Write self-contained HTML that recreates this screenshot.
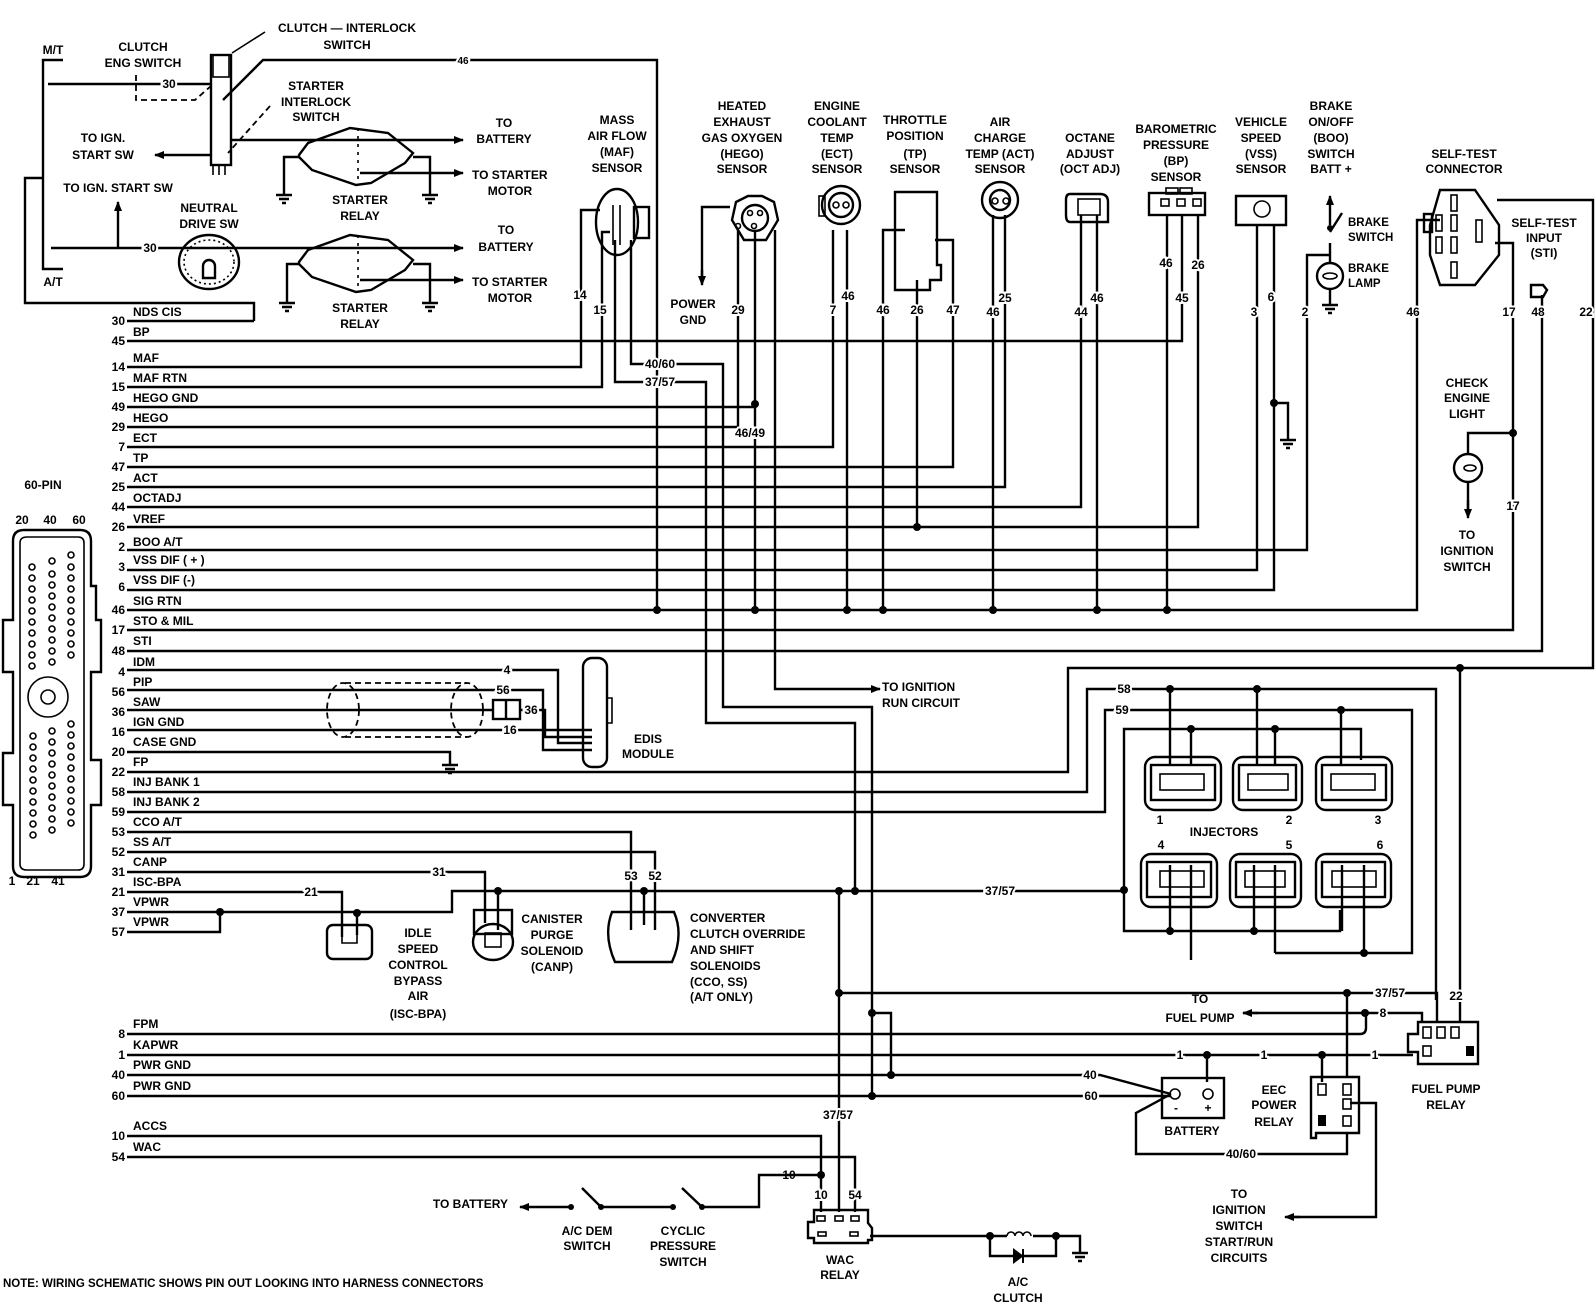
<!DOCTYPE html>
<html><head><meta charset="utf-8"><style>
html,body{margin:0;padding:0;background:#fff;}
svg{display:block;}
text{font-family:"Liberation Sans",sans-serif;font-weight:bold;font-size:12px;fill:#000;}
.c{text-anchor:middle;}
.r{text-anchor:end;}
.h{font-size:12.5px;}
.lb{paint-order:stroke;stroke:#fff;stroke-width:4px;}
.w{fill:none;stroke:#000;stroke-width:2.4;}
.thin{fill:none;stroke:#000;stroke-width:1.6;}
.d{fill:none;stroke:#000;stroke-width:1.8;stroke-dasharray:6 4;}
</style></head><body>
<svg width="1596" height="1312" viewBox="0 0 1596 1312" xmlns="http://www.w3.org/2000/svg">
<rect width="1596" height="1312" fill="#fff"/>
<defs>
<marker id="ar" markerWidth="10" markerHeight="8" refX="9" refY="4" orient="auto" markerUnits="userSpaceOnUse"><path d="M0,0 L10,4 L0,8 Z" fill="#000"/></marker>
</defs>

<!-- ===== TOP LEFT ===== -->
<text x="53" y="54" class="c">M/T</text>
<text x="53" y="286" class="c">A/T</text>
<path class="w" d="M63,60 H43 V269 H63"/>
<path class="w" d="M43,178 H25 V303 H254 V321"/>
<text x="143" y="51" class="c">CLUTCH</text>
<text x="143" y="67" class="c">ENG  SWITCH</text>
<text x="347" y="32" class="c">CLUTCH — INTERLOCK</text>
<text x="347" y="49" class="c">SWITCH</text>
<path class="thin" d="M265,32 L232,53"/>
<path class="w" d="M48,84 H211"/>
<text x="169" y="88" class="c lb">30</text>
<path class="d" d="M136,75 V100 H195 L211,86"/>
<rect x="211" y="55" width="20" height="110" class="w"/>
<rect x="213" y="55" width="16" height="22" class="thin"/>
<path class="thin" d="M213,165 v10 M219,165 v10 M225,165 v10"/>
<path class="w" d="M657,610 V60 H263 L223,100"/>
<text x="463" y="64" class="c lb" style="font-size:10px">46</text>
<text x="316" y="90" class="c">STARTER</text>
<text x="316" y="106" class="c">INTERLOCK</text>
<text x="316" y="121" class="c">SWITCH</text>
<path class="d" d="M270,106 L228,153"/>
<path class="w" d="M230,140 H463" marker-end="url(#ar)"/>
<text x="504" y="127" class="c">TO</text>
<text x="504" y="143" class="c">BATTERY</text>
<path class="w" d="M211,155 H155" marker-end="url(#ar)"/>
<text x="103" y="142" class="c">TO IGN.</text>
<text x="103" y="159" class="c">START SW</text>
<polygon class="w" points="299,155 308,143 350,128 388,133 413,153 405,163 371,183 356,185 312,170 299,157"/>
<path class="thin" stroke-dasharray="3 5" d="M358,128 V185"/>
<path class="w" d="M299,157 H284 V195 M413,157 H430 V195"/>
<path class="w" d="M276,195 h16 M279,199 h10 M282,203 h4 M422,195 h16 M425,199 h10 M428,203 h4"/>
<path class="w" d="M360,173 H463" marker-end="url(#ar)"/>
<text x="472" y="179">TO STARTER</text>
<text x="510" y="195" class="c">MOTOR</text>
<text x="360" y="204" class="c">STARTER</text>
<text x="360" y="220" class="c">RELAY</text>
<text x="118" y="192" class="c">TO IGN. START SW</text>
<path class="w" d="M118,248 V202" marker-end="url(#ar)"/>
<path class="w" d="M51,248 H463" marker-end="url(#ar)"/>
<text x="150" y="252" class="c lb">30</text>
<text x="506" y="234" class="c">TO</text>
<text x="506" y="251" class="c">BATTERY</text>
<text x="209" y="212" class="c">NEUTRAL</text>
<text x="209" y="228" class="c">DRIVE SW</text>
<ellipse cx="209" cy="262" rx="30" ry="27" class="w"/>
<ellipse cx="209" cy="262" rx="25" ry="22" class="thin" stroke-dasharray="2 3"/>
<path class="w" d="M203,278 v-12 a6,6 0 1 1 12,0 v12 z"/>
<polygon class="w" points="299,262 308,250 350,235 388,240 413,260 405,270 371,290 356,292 312,277 299,264"/>
<path class="thin" stroke-dasharray="3 5" d="M358,235 V292"/>
<path class="w" d="M299,264 H287 V303 M413,264 H430 V303"/>
<path class="w" d="M279,303 h16 M282,307 h10 M285,311 h4 M422,303 h16 M425,307 h10 M428,311 h4"/>
<path class="w" d="M360,280 H463" marker-end="url(#ar)"/>
<text x="472" y="286">TO STARTER</text>
<text x="510" y="302" class="c">MOTOR</text>
<text x="360" y="312" class="c">STARTER</text>
<text x="360" y="328" class="c">RELAY</text>

<!-- ===== 60 PIN CONNECTOR ===== -->
<text x="43" y="489" class="c">60-PIN</text>
<text x="22" y="524" class="c">20</text><text x="50" y="524" class="c">40</text><text x="79" y="524" class="c">60</text>
<path class="w" d="M24,530 H80 Q91,530 91,541 V586 H96 V620 H101 V672 H91 V760 H101 V805 H91 V866 Q91,877 80,877 H24 Q13,877 13,866 V805 H3 V753 H13 V672 H3 V620 H13 V541 Q13,530 24,530 Z"/>
<path class="thin" d="M27,537 H78 Q84,537 84,543 V864 Q84,870 78,870 H27 Q20,870 20,864 V543 Q20,537 27,537 Z"/>
<circle cx="48" cy="697" r="20" class="thin"/>
<circle cx="48" cy="697" r="7" class="thin"/>
<g class="thin">
<circle cx="32" cy="567" r="3"/><circle cx="32" cy="578" r="3"/><circle cx="32" cy="589" r="3"/><circle cx="32" cy="600" r="3"/><circle cx="32" cy="611" r="3"/><circle cx="32" cy="622" r="3"/><circle cx="32" cy="633" r="3"/><circle cx="32" cy="644" r="3"/><circle cx="32" cy="655" r="3"/><circle cx="32" cy="666" r="3"/>
<circle cx="52" cy="561" r="3"/><circle cx="52" cy="574" r="3"/><circle cx="52" cy="585" r="3"/><circle cx="52" cy="596" r="3"/><circle cx="52" cy="607" r="3"/><circle cx="52" cy="618" r="3"/><circle cx="52" cy="629" r="3"/><circle cx="52" cy="640" r="3"/><circle cx="52" cy="651" r="3"/><circle cx="52" cy="662" r="3"/>
<circle cx="71" cy="555" r="3"/><circle cx="71" cy="567" r="3"/><circle cx="71" cy="578" r="3"/><circle cx="71" cy="589" r="3"/><circle cx="71" cy="600" r="3"/><circle cx="71" cy="611" r="3"/><circle cx="71" cy="622" r="3"/><circle cx="71" cy="633" r="3"/><circle cx="71" cy="644" r="3"/><circle cx="71" cy="655" r="3"/>
<circle cx="33" cy="736" r="3"/><circle cx="33" cy="747" r="3"/><circle cx="33" cy="758" r="3"/><circle cx="33" cy="769" r="3"/><circle cx="33" cy="780" r="3"/><circle cx="33" cy="791" r="3"/><circle cx="33" cy="802" r="3"/><circle cx="33" cy="813" r="3"/><circle cx="33" cy="824" r="3"/><circle cx="33" cy="835" r="3"/>
<circle cx="52" cy="731" r="3"/><circle cx="52" cy="742" r="3"/><circle cx="52" cy="753" r="3"/><circle cx="52" cy="764" r="3"/><circle cx="52" cy="775" r="3"/><circle cx="52" cy="786" r="3"/><circle cx="52" cy="797" r="3"/><circle cx="52" cy="808" r="3"/><circle cx="52" cy="819" r="3"/><circle cx="52" cy="830" r="3"/>
<circle cx="71" cy="724" r="3"/><circle cx="71" cy="735" r="3"/><circle cx="71" cy="746" r="3"/><circle cx="71" cy="757" r="3"/><circle cx="71" cy="768" r="3"/><circle cx="71" cy="779" r="3"/><circle cx="71" cy="790" r="3"/><circle cx="71" cy="801" r="3"/><circle cx="71" cy="812" r="3"/><circle cx="71" cy="823" r="3"/>
</g>
<text x="12" y="885" class="c">1</text><text x="33" y="885" class="c">21</text><text x="58" y="885" class="c">41</text>

<!-- ===== ROW LABELS ===== -->
<g>
<text x="125" y="325" class="r">30</text><text x="133" y="316">NDS CIS</text>
<text x="125" y="345" class="r">45</text><text x="133" y="336">BP</text>
<text x="125" y="371" class="r">14</text><text x="133" y="362">MAF</text>
<text x="125" y="391" class="r">15</text><text x="133" y="382">MAF RTN</text>
<text x="125" y="411" class="r">49</text><text x="133" y="402">HEGO GND</text>
<text x="125" y="431" class="r">29</text><text x="133" y="422">HEGO</text>
<text x="125" y="451" class="r">7</text><text x="133" y="442">ECT</text>
<text x="125" y="471" class="r">47</text><text x="133" y="462">TP</text>
<text x="125" y="491" class="r">25</text><text x="133" y="482">ACT</text>
<text x="125" y="511" class="r">44</text><text x="133" y="502">OCTADJ</text>
<text x="125" y="531" class="r">26</text><text x="133" y="523">VREF</text>
<text x="125" y="551" class="r">2</text><text x="133" y="546">BOO A/T</text>
<text x="125" y="571" class="r">3</text><text x="133" y="564">VSS DIF ( + )</text>
<text x="125" y="591" class="r">6</text><text x="133" y="584">VSS DIF (-)</text>
<text x="125" y="614" class="r">46</text><text x="133" y="605">SIG RTN</text>
<text x="125" y="634" class="r">17</text><text x="133" y="625">STO &amp; MIL</text>
<text x="125" y="655" class="r">48</text><text x="133" y="645">STI</text>
<text x="125" y="676" class="r">4</text><text x="133" y="666">IDM</text>
<text x="125" y="696" class="r">56</text><text x="133" y="686">PIP</text>
<text x="125" y="716" class="r">36</text><text x="133" y="706">SAW</text>
<text x="125" y="736" class="r">16</text><text x="133" y="726">IGN GND</text>
<text x="125" y="756" class="r">20</text><text x="133" y="746">CASE GND</text>
<text x="125" y="776" class="r">22</text><text x="133" y="766">FP</text>
<text x="125" y="796" class="r">58</text><text x="133" y="786">INJ BANK 1</text>
<text x="125" y="816" class="r">59</text><text x="133" y="806">INJ BANK 2</text>
<text x="125" y="836" class="r">53</text><text x="133" y="826">CCO A/T</text>
<text x="125" y="856" class="r">52</text><text x="133" y="846">SS A/T</text>
<text x="125" y="876" class="r">31</text><text x="133" y="866">CANP</text>
<text x="125" y="896" class="r">21</text><text x="133" y="886">ISC-BPA</text>
<text x="125" y="916" class="r">37</text><text x="133" y="906">VPWR</text>
<text x="125" y="936" class="r">57</text><text x="133" y="926">VPWR</text>
<text x="125" y="1038" class="r">8</text><text x="133" y="1028">FPM</text>
<text x="125" y="1059" class="r">1</text><text x="133" y="1049">KAPWR</text>
<text x="125" y="1079" class="r">40</text><text x="133" y="1069">PWR GND</text>
<text x="125" y="1100" class="r">60</text><text x="133" y="1090">PWR GND</text>
<text x="125" y="1140" class="r">10</text><text x="133" y="1130">ACCS</text>
<text x="125" y="1161" class="r">54</text><text x="133" y="1151">WAC</text>
</g>

<!-- ===== ROW WIRES ===== -->
<g class="w">
<path d="M127,321 H254"/>
<path d="M127,341 H1182 V215"/>
<path d="M127,367 H581 V210 H600"/>
<path d="M127,387 H602 V232 H610"/>
<path d="M127,407 H755"/>
<path d="M127,427 H738 V230"/>
<path d="M127,447 H833 V230"/>
<path d="M127,467 H953 V240 H935"/>
<path d="M127,487 H1005 V215"/>
<path d="M127,507 H1081 V215"/>
<path d="M127,527 H1198 V215"/>
<path d="M127,550 H1307 V255 H1330"/>
<path d="M127,570 H1257 V225"/>
<path d="M127,590 H1274 V225"/>
<path d="M127,610 H1417 V220 H1440"/>
<path d="M127,630 H1513 V243 H1495"/>
<path d="M127,651 H1542 V295"/>
<path d="M127,670 H558 V743 H592"/>
<path d="M127,690 H543 V750 H592"/>
<path d="M127,710 H493 M520,710 H545 V737 H592"/>
<path d="M127,730 H592"/>
<path d="M127,752 H450 V765"/>
<path d="M127,772 H1068 V668 H1593 V200 H1497"/>
<path d="M127,792 H1087 V689 H1436 V1000"/>
<path d="M127,812 H1105 V710 H1412 V953 H1275"/>
<path d="M127,832 H631 V930"/>
<path d="M127,852 H655 V930"/>
<path d="M127,872 H485 V923"/>
<path d="M127,892 H342 V937"/>
<path d="M127,912 H452 V891 H1124"/>
<path d="M127,932 H220 V912"/>
<path d="M127,1034 H1360 Q1366,1034 1366,1028 V1013"/>
<path d="M127,1055 H1413"/>
<path d="M127,1075 H1100 L1171,1094"/>
<path d="M127,1096 H1171"/>
<path d="M127,1136 H821 V1212"/>
<path d="M127,1157 H855 V1212"/>
</g>

<!-- SIG RTN verticals -->
<g class="w">
<path d="M755,230 V610"/>
<path d="M847,230 V610"/>
<path d="M883,610 V230 H905"/>
<path d="M917,527 V280"/>
<path d="M993,215 V610"/>
<path d="M1097,215 V610"/>
<path d="M1167,215 V610"/>
<path d="M775,230 V689 H880" marker-end="url(#ar)"/>
<path d="M615,240 V382 H706 V723 H855 V891"/>
<path d="M631,240 V364 H723 V707 H872 V1096"/>
<path d="M872,1013 H891 V1075"/>
<path d="M839,891 V1212"/>
<path d="M839,993 H1437 V1022"/>
<path d="M1347,993 V1077"/>
<path d="M1460,668 V1022"/>
<path d="M1274,403 H1288 V440"/>
<path d="M1243,1013 H1422 V1022" />
<path d="M1207,1055 V1082 M1322,1055 V1082"/>
<path d="M1171,1094 L1136,1113 V1154 H1347 V1133"/>
<path d="M1350,1103 H1376 V1217 H1287"/>
<path d="M1513,433 H1468 V455"/>
<path d="M1468,482 V516"/>
</g>
<path class="w" d="M1258,1013 L1243,1013" marker-end="url(#ar)"/>
<path class="w" d="M1300,1217 L1285,1217" marker-end="url(#ar)"/>
<path class="w" d="M1468,500 V518" marker-end="url(#ar)"/>
<path class="w" d="M1280,440 h16 M1283,444 h10 M1286,448 h4 M442,765 h16 M445,769 h10 M448,773 h4"/>

<!-- dots -->
<g fill="#000">
<circle cx="657" cy="610" r="4"/><circle cx="755" cy="610" r="4"/><circle cx="847" cy="610" r="4"/><circle cx="883" cy="610" r="4"/><circle cx="993" cy="610" r="4"/><circle cx="1097" cy="610" r="4"/><circle cx="1167" cy="610" r="4"/>
<circle cx="755" cy="404" r="4"/><circle cx="917" cy="527" r="4"/><circle cx="1274" cy="403" r="4"/><circle cx="1513" cy="433" r="4"/><circle cx="1460" cy="668" r="4"/>
<circle cx="220" cy="912" r="4"/><circle cx="357" cy="913" r="4"/><circle cx="498" cy="891" r="4"/><circle cx="644" cy="891" r="4"/><circle cx="839" cy="891" r="4"/><circle cx="855" cy="891" r="4"/><circle cx="1124" cy="890" r="4"/>
<circle cx="839" cy="993" r="4"/><circle cx="1347" cy="993" r="4"/><circle cx="872" cy="1013" r="4"/><circle cx="891" cy="1075" r="4"/><circle cx="872" cy="1096" r="4"/>
<circle cx="1365" cy="1013" r="4"/><circle cx="1207" cy="1055" r="4"/><circle cx="1322" cy="1055" r="4"/>
<circle cx="821" cy="1175" r="4"/><circle cx="990" cy="1236" r="4"/><circle cx="1056" cy="1236" r="4"/>
<circle cx="1170" cy="689" r="4"/><circle cx="1257" cy="689" r="4"/><circle cx="1341" cy="710" r="4"/><circle cx="1191" cy="729" r="4"/><circle cx="1275" cy="729" r="4"/>
<circle cx="1170" cy="931" r="4"/><circle cx="1254" cy="931" r="4"/><circle cx="1364" cy="953" r="4"/>
</g>

<!-- wire labels -->
<g>
<text x="660" y="368" class="c lb">40/60</text>
<text x="660" y="386" class="c lb">37/57</text>
<text x="750" y="437" class="c lb">46/49</text>
<text x="580" y="299" class="c lb">14</text>
<text x="600" y="314" class="c lb">15</text>
<text x="738" y="314" class="c lb">29</text>
<text x="833" y="314" class="c lb">7</text>
<text x="848" y="300" class="c lb">46</text>
<text x="883" y="314" class="c lb">46</text>
<text x="917" y="314" class="c lb">26</text>
<text x="953" y="314" class="c lb">47</text>
<text x="993" y="316" class="c lb">46</text>
<text x="1005" y="302" class="c lb">25</text>
<text x="1081" y="316" class="c lb">44</text>
<text x="1097" y="302" class="c lb">46</text>
<text x="1166" y="267" class="c lb">46</text>
<text x="1198" y="269" class="c lb">26</text>
<text x="1182" y="302" class="c lb">45</text>
<text x="1254" y="316" class="c lb">3</text>
<text x="1271" y="301" class="c lb">6</text>
<text x="1305" y="316" class="c lb">2</text>
<text x="1413" y="316" class="c lb">46</text>
<text x="1509" y="316" class="c lb">17</text>
<text x="1538" y="316" class="c lb">48</text>
<text x="1586" y="316" class="c lb">22</text>
<text x="1513" y="510" class="c lb">17</text>
<text x="507" y="674" class="c lb">4</text>
<text x="503" y="694" class="c lb">56</text>
<text x="531" y="714" class="c lb">36</text>
<text x="510" y="734" class="c lb">16</text>
<text x="1124" y="693" class="c lb">58</text>
<text x="1122" y="714" class="c lb">59</text>
<text x="631" y="880" class="c lb">53</text>
<text x="655" y="880" class="c lb">52</text>
<text x="439" y="876" class="c lb">31</text>
<text x="311" y="896" class="c lb">21</text>
<text x="1000" y="895" class="c lb">37/57</text>
<text x="1390" y="997" class="c lb">37/57</text>
<text x="1456" y="1000" class="c lb">22</text>
<text x="1383" y="1017" class="c lb">8</text>
<text x="1180" y="1059" class="c lb">1</text>
<text x="1264" y="1059" class="c lb">1</text>
<text x="1375" y="1059" class="c lb">1</text>
<text x="1090" y="1079" class="c lb">40</text>
<text x="1091" y="1100" class="c lb">60</text>
<text x="1241" y="1158" class="c lb">40/60</text>
<text x="838" y="1119" class="c lb">37/57</text>
<text x="821" y="1199" class="c lb">10</text>
<text x="855" y="1199" class="c lb">54</text>
<text x="789" y="1179" class="c lb">10</text>
</g>

<!-- ===== SENSOR HEADERS ===== -->
<g class="h">
<text x="617" y="124" class="c">MASS</text><text x="617" y="140" class="c">AIR FLOW</text><text x="617" y="156" class="c">(MAF)</text><text x="617" y="172" class="c">SENSOR</text>
<text x="742" y="110" class="c">HEATED</text><text x="742" y="126" class="c">EXHAUST</text><text x="742" y="142" class="c">GAS OXYGEN</text><text x="742" y="158" class="c">(HEGO)</text><text x="742" y="173" class="c">SENSOR</text>
<text x="837" y="110" class="c">ENGINE</text><text x="837" y="126" class="c">COOLANT</text><text x="837" y="142" class="c">TEMP</text><text x="837" y="158" class="c">(ECT)</text><text x="837" y="173" class="c">SENSOR</text>
<text x="915" y="124" class="c">THROTTLE</text><text x="915" y="140" class="c">POSITION</text><text x="915" y="158" class="c">(TP)</text><text x="915" y="173" class="c">SENSOR</text>
<text x="1000" y="126" class="c">AIR</text><text x="1000" y="142" class="c">CHARGE</text><text x="1000" y="158" class="c">TEMP (ACT)</text><text x="1000" y="173" class="c">SENSOR</text>
<text x="1090" y="142" class="c">OCTANE</text><text x="1090" y="158" class="c">ADJUST</text><text x="1090" y="173" class="c">(OCT ADJ)</text>
<text x="1176" y="133" class="c">BAROMETRIC</text><text x="1176" y="149" class="c">PRESSURE</text><text x="1176" y="165" class="c">(BP)</text><text x="1176" y="181" class="c">SENSOR</text>
<text x="1261" y="126" class="c">VEHICLE</text><text x="1261" y="142" class="c">SPEED</text><text x="1261" y="158" class="c">(VSS)</text><text x="1261" y="173" class="c">SENSOR</text>
<text x="1331" y="110" class="c">BRAKE</text><text x="1331" y="126" class="c">ON/OFF</text><text x="1331" y="142" class="c">(BOO)</text><text x="1331" y="158" class="c">SWITCH</text><text x="1331" y="173" class="c">BATT +</text>
<text x="1464" y="158" class="c">SELF-TEST</text><text x="1464" y="173" class="c">CONNECTOR</text>
<text x="1544" y="227" class="c">SELF-TEST</text><text x="1544" y="242" class="c">INPUT</text><text x="1544" y="257" class="c">(STI)</text>
<text x="693" y="308" class="c">POWER</text><text x="693" y="324" class="c">GND</text>
</g>
<text x="1348" y="226" style="font-size:11.5px">BRAKE</text><text x="1348" y="241" style="font-size:11.5px">SWITCH</text>
<text x="1348" y="272" style="font-size:11.5px">BRAKE</text><text x="1348" y="287" style="font-size:11.5px">LAMP</text>

<!-- sensor shapes -->
<ellipse cx="617" cy="222" rx="21" ry="33" class="w"/>
<rect x="634" y="207" width="15" height="31" class="w"/>
<path class="thin" d="M613,205 v40 M620,205 v40"/>
<path class="w" d="M702,283 V207 H730"/>
<path class="w" d="M702,270 V285" marker-end="url(#ar)"/>
<path class="w" d="M736,202 L748,196 H762 L774,202 L778,220 L766,240 H744 L732,220 Z"/>
<circle cx="755" cy="218" r="13" class="w"/>
<circle cx="750" cy="213" r="2.5" class="thin"/><circle cx="760" cy="213" r="2.5" class="thin"/><circle cx="738" cy="226" r="2.5" class="thin"/><circle cx="754" cy="226" r="2.5" class="thin"/>
<circle cx="841" cy="205" r="19" class="w"/><circle cx="841" cy="205" r="12" class="w"/>
<rect x="819" y="196" width="6" height="20" class="thin"/>
<circle cx="836" cy="205" r="3" class="thin"/><circle cx="846" cy="205" r="3" class="thin"/>
<path class="w" d="M895,192 H937 V265 H941 V280 H930 V290 H895 Z"/>
<circle cx="1000" cy="200" r="18" class="w"/><circle cx="1000" cy="200" r="10" class="w"/>
<circle cx="995" cy="201" r="3" class="thin"/><circle cx="1006" cy="201" r="3" class="thin"/>
<path class="w" d="M1070,194 H1100 Q1108,194 1108,202 V222 H1070 Q1066,222 1066,215 V200 Q1066,194 1070,194 Z"/>
<rect x="1078" y="199" width="22" height="16" class="thin"/>
<rect x="1149" y="193" width="56" height="22" class="w"/>
<rect x="1166" y="188" width="12" height="6" class="thin"/><rect x="1180" y="188" width="12" height="6" class="thin"/>
<rect x="1161" y="199" width="8" height="7" class="thin"/><rect x="1177" y="199" width="8" height="7" class="thin"/><rect x="1193" y="199" width="8" height="7" class="thin"/>
<path class="w" d="M1236,196 H1286 V225 H1236 Z"/>
<circle cx="1262" cy="209" r="8" class="thin"/>
<path class="w" d="M1330,225 V196" marker-end="url(#ar)"/>
<circle cx="1330" cy="228" r="3" fill="#000"/>
<path class="w" d="M1330,232 L1342,213 M1330,243 V262"/>
<circle cx="1330" cy="276" r="13" class="w"/>
<ellipse cx="1330" cy="276" rx="7" ry="3" class="thin"/>
<path class="w" d="M1330,289 V305 M1322,305 h16 M1325,309 h10 M1328,313 h4"/>
<path class="w" d="M1440,190 H1475 L1499,225 V255 L1475,285 H1440 L1430,255 V225 Z"/>
<rect x="1451" y="195" width="6" height="16" class="thin"/><rect x="1451" y="215" width="6" height="16" class="thin"/><rect x="1451" y="237" width="6" height="16" class="thin"/><rect x="1451" y="262" width="6" height="16" class="thin"/>
<rect x="1436" y="215" width="6" height="16" class="thin"/><rect x="1436" y="237" width="6" height="16" class="thin"/>
<rect x="1476" y="220" width="6" height="22" class="thin"/>
<rect x="1424" y="214" width="8" height="18" class="w"/>
<path class="w" d="M1531,285 h12 l4,5 l-4,7 h-12 z"/>

<!-- check engine light -->
<text x="1467" y="387" class="c">CHECK</text>
<text x="1467" y="402" class="c">ENGINE</text>
<text x="1467" y="418" class="c">LIGHT</text>
<circle cx="1468" cy="468" r="14" class="w"/>
<ellipse cx="1470" cy="468" rx="6" ry="3" class="thin"/>
<text x="1467" y="539" class="c">TO</text>
<text x="1467" y="555" class="c">IGNITION</text>
<text x="1467" y="571" class="c">SWITCH</text>

<!-- EDIS -->
<ellipse cx="343" cy="710" rx="16" ry="27" class="d"/>
<ellipse cx="467" cy="710" rx="16" ry="27" class="d"/>
<path class="d" d="M345,683 H467 M345,737 H467"/>
<rect x="493" y="700" width="27" height="19" class="w"/>
<path class="w" d="M506,700 V719"/>
<rect x="583" y="658" width="24" height="109" rx="9" class="w"/>
<path class="thin" d="M607,698 H612 V723 H607"/>
<text x="648" y="743" class="c">EDIS</text>
<text x="648" y="758" class="c">MODULE</text>
<text x="882" y="691">TO IGNITION</text>
<text x="882" y="707">RUN CIRCUIT</text>

<!-- ISC, CANP, converter -->
<rect x="327" y="925" width="45" height="34" rx="6" class="w"/>
<path class="thin" d="M342,925 v18 h15 v-18"/>
<path class="w" d="M357,913 V935"/>
<rect x="474" y="910" width="38" height="24" class="w"/>
<ellipse cx="493" cy="942" rx="20" ry="18" class="w"/>
<rect x="485" y="933" width="16" height="14" class="thin"/>
<path class="w" d="M498,891 V930"/>
<path class="w" d="M612,912 H674 Q684,935 672,962 H615 Q603,935 612,912 Z"/>
<path class="w" d="M644,891 V925"/>
<g>
<text x="418" y="937" class="c">IDLE</text><text x="418" y="953" class="c">SPEED</text><text x="418" y="969" class="c">CONTROL</text><text x="418" y="985" class="c">BYPASS</text><text x="418" y="1000" class="c">AIR</text><text x="418" y="1018" class="c">(ISC-BPA)</text>
<text x="552" y="923" class="c">CANISTER</text><text x="552" y="939" class="c">PURGE</text><text x="552" y="955" class="c">SOLENOID</text><text x="552" y="971" class="c">(CANP)</text>
<text x="690" y="922">CONVERTER</text><text x="690" y="938">CLUTCH OVERRIDE</text><text x="690" y="954">AND SHIFT</text><text x="690" y="970">SOLENOIDS</text><text x="690" y="986">(CCO, SS)</text><text x="690" y="1001">(A/T ONLY)</text>
</g>

<!-- injectors -->
<path class="w" d="M1124,891 V931 H1340 V910 M1124,891 V729 H1361 V760"/>
<path class="w" d="M1170,689 V764 M1257,689 V764 M1341,710 V764 M1191,729 V764 M1275,729 V764"/>
<path class="w" d="M1170,931 V865 M1254,931 V865 M1342,931 V865 M1191,960 V865 M1275,953 V865 M1364,953 V865"/>
<g class="w">
<rect x="1145" y="757" width="76" height="53" rx="10"/><rect x="1151" y="765" width="64" height="35"/>
<rect x="1233" y="757" width="69" height="53" rx="10"/><rect x="1239" y="765" width="57" height="35"/>
<rect x="1316" y="757" width="76" height="53" rx="10"/><rect x="1322" y="765" width="64" height="35"/>
<rect x="1141" y="854" width="76" height="53" rx="10"/><rect x="1147" y="862" width="64" height="35"/>
<rect x="1230" y="854" width="71" height="53" rx="10"/><rect x="1236" y="862" width="59" height="35"/>
<rect x="1316" y="854" width="75" height="53" rx="10"/><rect x="1322" y="862" width="63" height="35"/>
</g>
<g class="thin">
<rect x="1160" y="774" width="44" height="16"/><rect x="1248" y="774" width="40" height="16"/><rect x="1331" y="774" width="44" height="16"/>
<rect x="1160" y="871" width="44" height="16"/><rect x="1245" y="871" width="40" height="16"/><rect x="1332" y="871" width="44" height="16"/>
</g>
<text x="1160" y="824" class="c">1</text><text x="1289" y="824" class="c">2</text><text x="1378" y="824" class="c">3</text>
<text x="1224" y="836" class="c">INJECTORS</text>
<text x="1161" y="849" class="c">4</text><text x="1289" y="849" class="c">5</text><text x="1380" y="849" class="c">6</text>

<!-- fuel pump relay, battery, EEC -->
<text x="1200" y="1003" class="c">TO</text>
<text x="1200" y="1022" class="c">FUEL PUMP</text>
<path class="w" d="M1418,1022 H1478 V1064 H1418 V1052 H1408 V1034 H1418 Z"/>
<rect x="1423" y="1027" width="8" height="11" class="thin"/><rect x="1437" y="1027" width="8" height="11" class="thin"/><rect x="1451" y="1027" width="8" height="11" class="thin"/>
<rect x="1423" y="1046" width="8" height="10" class="thin"/><rect x="1466" y="1046" width="8" height="10" fill="#000"/>
<text x="1446" y="1093" class="c">FUEL PUMP</text>
<text x="1446" y="1109" class="c">RELAY</text>
<rect x="1162" y="1078" width="62" height="40" class="w"/>
<circle cx="1175" cy="1094" r="5" class="thin"/><circle cx="1208" cy="1094" r="5" class="thin"/>
<text x="1176" y="1112" class="c">-</text><text x="1208" y="1112" class="c">+</text>
<text x="1192" y="1135" class="c">BATTERY</text>
<path class="w" d="M1311,1077 H1359 V1133 H1316 V1138 H1311 Z"/>
<rect x="1318" y="1084" width="8" height="11" class="thin"/><rect x="1343" y="1084" width="8" height="11" class="thin"/>
<rect x="1343" y="1099" width="8" height="10" class="thin"/><rect x="1343" y="1116" width="8" height="10" class="thin"/>
<rect x="1318" y="1115" width="8" height="11" fill="#000"/>
<text x="1274" y="1094" class="c">EEC</text>
<text x="1274" y="1109" class="c">POWER</text>
<text x="1274" y="1126" class="c">RELAY</text>
<text x="1239" y="1198" class="c">TO</text>
<text x="1239" y="1214" class="c">IGNITION</text>
<text x="1239" y="1230" class="c">SWITCH</text>
<text x="1239" y="1246" class="c">START/RUN</text>
<text x="1239" y="1262" class="c">CIRCUITS</text>

<!-- WAC relay, A/C -->
<path class="w" d="M814,1210 H868 V1223 L872,1228 V1240 H868 V1243 H814 V1238 H808 V1222 H814 Z"/>
<rect x="817" y="1216" width="8" height="5" class="thin"/><rect x="835" y="1216" width="8" height="5" class="thin"/><rect x="851" y="1216" width="8" height="5" class="thin"/>
<rect x="818" y="1232" width="8" height="4" class="thin"/><rect x="850" y="1232" width="8" height="4" class="thin"/>
<text x="840" y="1264" class="c">WAC</text>
<text x="840" y="1279" class="c">RELAY</text>
<path class="w" d="M870,1236 H990 V1256 H1056 V1236 H1080 V1253"/>
<path class="w" d="M990,1236 H1007 M1033,1236 H1056"/>
<path class="thin" d="M1007,1236 a4,4 0 0 1 8,0 a4,4 0 0 1 8,0 a4,4 0 0 1 8,0"/>
<path d="M1014,1250 L1022,1256 L1014,1262 Z M1023,1249 V1263" stroke="#000" stroke-width="2" fill="#000"/>
<path class="w" d="M1072,1253 h16 M1075,1257 h10 M1078,1261 h4"/>
<text x="1018" y="1286" class="c">A/C</text>
<text x="1018" y="1302" class="c">CLUTCH</text>

<!-- A/C switches -->
<text x="508" y="1208" class="r">TO BATTERY</text>
<path class="w" d="M571,1207 H520" marker-end="url(#ar)"/>
<circle cx="571" cy="1207" r="3" fill="#000"/>
<path class="w" d="M582,1188 L601,1207 H673 M682,1188 L702,1207 H759 V1175 H821"/>
<circle cx="601" cy="1207" r="3" fill="#000"/><circle cx="673" cy="1207" r="3" fill="#000"/><circle cx="702" cy="1207" r="3" fill="#000"/>
<text x="587" y="1235" class="c">A/C DEM</text>
<text x="587" y="1250" class="c">SWITCH</text>
<text x="683" y="1235" class="c">CYCLIC</text>
<text x="683" y="1250" class="c">PRESSURE</text>
<text x="683" y="1266" class="c">SWITCH</text>

<text x="3" y="1287" style="font-size:11.5px">NOTE: WIRING SCHEMATIC SHOWS PIN OUT LOOKING INTO HARNESS CONNECTORS</text>
</svg>
</body></html>
